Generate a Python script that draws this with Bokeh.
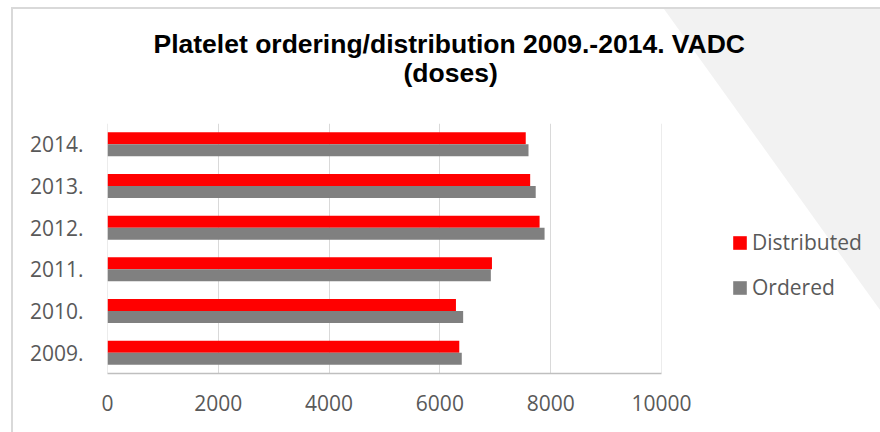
from bokeh.plotting import figure
from bokeh.models import (ColumnDataSource, FactorRange, Range1d, Legend, LegendItem,
                          FixedTicker, Title)
from bokeh.transform import dodge
from bokeh.embed import file_html
from bokeh.resources import INLINE

# ---- data ----
years = ["2009.", "2010.", "2011.", "2012.", "2013.", "2014."]
distributed = [6350, 6290, 6940, 7800, 7630, 7550]
ordered = [6395, 6420, 6920, 7890, 7730, 7600]
x_ticks = [0, 2000, 4000, 6000, 8000, 10000]
title_lines = ["Platelet ordering/distribution 2009.-2014. VADC", "(doses)"]
series_names = ["Distributed", "Ordered"]
series_colors = ["#ff0000", "#808080"]

src = ColumnDataSource(dict(year=years, distributed=distributed, ordered=ordered))

p = figure(y_range=FactorRange(factors=years), x_range=Range1d(-1, 10001),
           frame_width=554, frame_height=250,
           min_border_left=107, min_border_right=219, min_border_top=123, min_border_bottom=59,
           output_backend="svg", toolbar_location=None)
p.title.visible = False
p.outline_line_color = None
p.background_fill_color = "white"
p.border_fill_color = None

# slide background decoration (outer box + light diagonal shading)
bg_svg = ("data:image/svg+xml;utf8,<svg xmlns='http://www.w3.org/2000/svg' width='880' height='432'>"
          "<polygon points='664,9 880,9 880,310' fill='%23f2f2f2'/>"
          "<path d='M12,432 V8 H880' stroke='%23d9d9d9' stroke-width='2' fill='none'/></svg>")
p.styles = {"background-image": f"url(\"{bg_svg}\")", "background-repeat": "no-repeat",
            "background-color": "white"}

r_d = p.hbar(y=dodge("year", 0.144, range=p.y_range), left=0, right="distributed", height=0.288,
             fill_color=series_colors[0], line_color=None, source=src)
r_o = p.hbar(y=dodge("year", -0.144, range=p.y_range), left=0, right="ordered", height=0.288,
             fill_color=series_colors[1], line_color=None, source=src)

# grid & axes
p.ygrid.visible = False
p.xgrid.grid_line_color = "#d9d9d9"
p.xgrid.grid_line_width = 1
p.xgrid.level = "underlay"
p.xaxis.ticker = FixedTicker(ticks=x_ticks)
p.xaxis.major_tick_line_color = None
p.xaxis.minor_tick_line_color = None
p.xaxis.axis_line_color = "#bfbfbf"
p.xaxis.axis_line_width = 1.5
p.xaxis.major_label_text_font = "Open Sans"
p.xaxis.major_label_text_font_size = "21px"
p.xaxis.major_label_text_color = "#595959"
p.xaxis.major_label_standoff = 15

p.yaxis.axis_line_color = None
p.yaxis.major_tick_line_color = None
p.yaxis.minor_tick_line_color = None
p.yaxis.major_label_text_font = "Open Sans"
p.yaxis.major_label_text_font_size = "21px"
p.yaxis.major_label_text_color = "#595959"
p.yaxis.major_label_standoff = 18

# title lines (second line nearest the frame)
p.add_layout(Title(text=title_lines[1], align="left", offset=296, standoff=72,
                   text_font="Liberation Sans", text_font_style="bold",
                   text_font_size="26.5px", text_color="black"), "above")
p.add_layout(Title(text=title_lines[0], align="left", offset=46, standoff=-79,
                   text_font="Liberation Sans", text_font_style="bold",
                   text_font_size="26.5px", text_color="black"), "above")

legend = Legend(items=[LegendItem(label=series_names[0], renderers=[r_d]),
                       LegendItem(label=series_names[1], renderers=[r_o])],
                location=(70, 70), orientation="vertical", padding=0, margin=0, spacing=13,
                glyph_width=17, glyph_height=17, label_height=32, label_standoff=4,
                label_text_font="Open Sans", label_text_font_size="21px",
                label_text_color="#595959", border_line_color=None,
                background_fill_alpha=0)
p.add_layout(legend, "right")

open("out.html", "w").write(file_html(p, INLINE))
